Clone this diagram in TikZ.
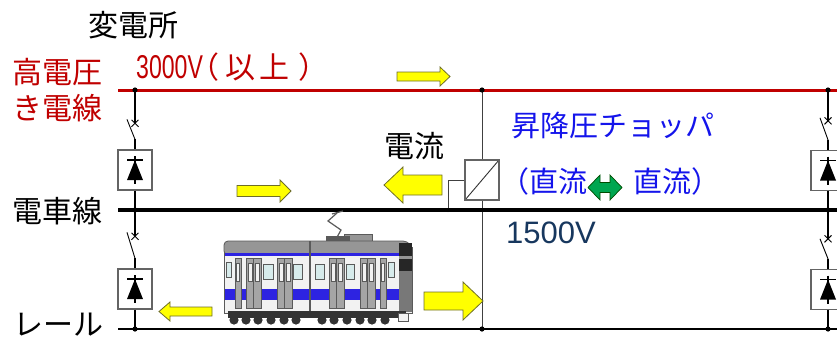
\documentclass[tikz,border=0pt]{standalone}
\usepackage{fontspec}
\usepackage{graphicx}
\setmainfont{Liberation Sans}
\newfontfamily\jp{Noto Sans CJK JP}
\usetikzlibrary{calc}

\definecolor{hvred}{RGB}{192,0,0}
\definecolor{chopblue}{RGB}{20,20,235}
\definecolor{dcnavy}{RGB}{23,55,94}
\definecolor{flowyellow}{RGB}{255,255,0}
\definecolor{flowedge}{RGB}{110,110,40}
\definecolor{convgreen}{RGB}{0,166,80}
\definecolor{boxgray}{RGB}{100,100,100}
\definecolor{trainwhite}{RGB}{242,242,242}
\definecolor{roofgray}{RGB}{150,150,150}
\definecolor{trainblue}{RGB}{45,35,225}
\definecolor{winblue}{RGB}{215,235,235}
\definecolor{doorgray}{RGB}{165,165,165}
\definecolor{trainedge}{RGB}{90,90,90}

% flow arrow: tail x, tip x, y, shaft half-height, head half-height, signed head length
\newcommand\flowarrow[6]{%
  \filldraw[flowarrowstyle]
    ({#1},{#3-#4}) -- ({#2-(#6)},{#3-#4}) -- ({#2-(#6)},{#3-#5}) -- ({#2},{#3})
    -- ({#2-(#6)},{#3+#5}) -- ({#2-(#6)},{#3+#4}) -- ({#1},{#3+#4}) -- cycle;}

\tikzset{
  flowarrowstyle/.style={fill=flowyellow, draw=flowedge, line width=0.8pt, line join=miter},
  wire/.style={line width=1.2pt, black},
  bladewire/.style={line width=0.9pt, black},
  stubwire/.style={line width=2.6pt, black},
  chopwire/.style={line width=0.9pt, black!75},
  hvline/.style={line width=3pt, hvred},
  trolley/.style={line width=4.8pt, black},
  railline/.style={line width=1.2pt, black},
  junction/.style={fill=black},
  diodebox/.style={draw=boxgray, fill=white, line width=1.3pt, minimum width=34pt,
    minimum height=40pt, inner sep=0pt,
    path picture={
      \fill[black] ([xshift=-8pt,yshift=-10pt]path picture bounding box.center)
        -- ([xshift=8pt,yshift=-10pt]path picture bounding box.center)
        -- ([yshift=10pt]path picture bounding box.center) -- cycle;
      \draw[black, line width=1.4pt] ([xshift=-8pt,yshift=10pt]path picture bounding box.center)
        -- ([xshift=8pt,yshift=10pt]path picture bounding box.center);
      \draw[black, line width=1.4pt] ([yshift=14pt]path picture bounding box.center)
        -- ([yshift=-14pt]path picture bounding box.center);
    }},
  chopbox/.style={draw=boxgray, fill=white, line width=1.3pt, minimum width=34pt,
    minimum height=40pt, inner sep=0pt,
    path picture={
      \draw[black!80, line width=0.9pt] (path picture bounding box.south west)
        -- (path picture bounding box.north east);
    }},
  lbl/.style={inner sep=0pt, anchor=west, font=\jp\fontsize{30}{36}\selectfont},
}

\begin{document}
\begin{tikzpicture}[x=1pt,y=-1pt]
\useasboundingbox (0,0) rectangle (837,338);
\clip (0,0) rectangle (837,338);

% bus lines
\coordinate (hvW) at (118,90);  \coordinate (hvE) at (837,90);
\coordinate (trW) at (118,210); \coordinate (trE) at (837,210);
\coordinate (rlW) at (118,329); \coordinate (rlE) at (837,329);
\draw[hvline] (hvW) -- (hvE);
\draw[railline] (rlW) -- (rlE);

% junctions
\coordinate (L1) at (135,90);  \coordinate (L2) at (135,210); \coordinate (L3) at (135,329);
\coordinate (R1) at (828,90);  \coordinate (R2) at (828,210); \coordinate (R3) at (828,329);
\coordinate (C1) at (482,90);  \coordinate (C2) at (448,210); \coordinate (C3) at (482,329);

% rectifier units of the substations
\node[diodebox] (dL1) at (135,170) {};
\node[diodebox] (dL2) at (135,289) {};
\node[diodebox] (dR1) at (828,170.5) {};
\node[diodebox] (dR2) at (828,289.5) {};

\foreach \dbox/\dfeed/\dlen/\dcross in {dL1/L1/30/26, dL2/L2/36/32, dR1/R1/32/29, dR2/R2/30/30} {
  \draw[wire] (\dfeed) -- ($(\dbox.north)+(0,-\dcross)$);
  \draw[bladewire] ($(\dbox.north)+(-3.5,-\dcross-3.5)$) -- ($(\dbox.north)+(3.5,-\dcross+3.5)$);
  \draw[bladewire] ($(\dbox.north)+(-3.5,-\dcross+3.5)$) -- ($(\dbox.north)+(3.5,-\dcross-3.5)$);
  \draw[bladewire] ($(\dbox.north)+(-8,-\dlen)$) -- ($(\dbox.north)+(0,-10)$);
  \draw[stubwire] ($(\dbox.north)+(0,-10)$) -- (\dbox.north);
}
\draw[wire] (dL1.south) -- (L2);
\draw[wire] (dL2.south) -- (L3);
\draw[wire] (dR1.south) -- (R2);
\draw[wire] (dR2.south) -- (R3);

% buck-boost chopper
\node[chopbox] (chop) at (482,180) {};
\draw[chopwire] (C1) -- (chop.north);
\draw[chopwire] (chop.south) -- (C3);
\draw[chopwire] (chop.west) -| (C2);

% trolley wire on top of the verticals
\draw[trolley] (trW) -- (trE);

\foreach \j in {L1,L2,L3,R1,R2,R3,C1,C3} \fill[junction] (\j) circle (2.6pt);
\fill[junction] (C2) circle (2pt);

% current flow arrows
\flowarrow{397}{450}{76.5}{4.5}{9.5}{10}
\flowarrow{237}{291}{191}{5.5}{11}{11}
\flowarrow{442}{384}{185}{10}{18}{-19}
\flowarrow{212}{159}{311.5}{4.5}{9.5}{-11}
\flowarrow{424}{483}{301}{9}{19}{20}

% DC-DC conversion arrow
\filldraw[fill=convgreen, draw=black!70!green, line width=0.7pt]
  (588,187.5) -- (600,175) -- (600,182.5) -- (610,182.5) -- (610,175) -- (622,187.5)
  -- (610,200) -- (610,192.5) -- (600,192.5) -- (600,200) -- cycle;

% ---- train ----
\draw[trainedge, line width=1.2pt] (336,239) -- (341,230) -- (328,221) -- (337,213);
\draw[trainedge, line width=1.2pt] (332,214) -- (343,211);
\filldraw[fill=roofgray, draw=trainedge, line width=0.6pt] (344,234) rectangle (372,241);
\fill[trainedge] (326,236) rectangle (350,241);
% body
\filldraw[fill=trainwhite, draw=trainedge, line width=0.8pt] (224,250) rectangle (412,313);
\filldraw[fill=roofgray, draw=trainedge, line width=0.8pt, rounded corners=4pt]
  (224,255) -- (224,241) -- (407,241) -- (412,247) -- (412,255) -- cycle;
\fill[trainblue] (225,252.5) rectangle (400,255.5);
\fill[trainblue] (225,289) rectangle (400,300);
% windows
\foreach \xa/\xb/\ya/\yb in {226/231/262/277, 263/273/264/279, 293/302/264/279,
                             315/324/264/279, 346/354/264/279, 388/394/262/277}
  \filldraw[fill=winblue, draw=trainedge, line width=0.8pt] (\xa,\ya) rectangle (\xb,\yb);
% double doors
\foreach \xa/\xb in {246/261, 277/292, 329/344, 360/375} {
  \filldraw[fill=doorgray, draw=trainedge, line width=0.8pt] (\xa,258) rectangle (\xb,308);
  \draw[trainedge, line width=0.6pt] ({(\xa+\xb)/2},258) -- ({(\xa+\xb)/2},308);
  \filldraw[fill=trainwhite, draw=trainedge, line width=0.5pt] (\xa+2,263) rectangle ({(\xa+\xb)/2-1.5},281);
  \filldraw[fill=trainwhite, draw=trainedge, line width=0.5pt] ({(\xa+\xb)/2+1.5},263) rectangle (\xb-2,281);
}
% single doors
\foreach \xa/\xb in {235/241, 380/386} {
  \filldraw[fill=doorgray, draw=trainedge, line width=0.8pt] (\xa,258) rectangle (\xb,308);
  \filldraw[fill=trainwhite, draw=trainedge, line width=0.5pt] (\xa+1.5,263) rectangle (\xb-1.5,281);
}
% car joint and cab end
\draw[trainedge, line width=1.6pt] (310,241) -- (310,313);
\fill[black!85] (399,243) rectangle (412,271);
\fill[roofgray] (399,256) rectangle (412,259);
\fill[roofgray!80!black] (399,271) rectangle (412,312);
\draw[trainedge, line width=0.8pt] (412,247) -- (412,313);
% underframe and wheels
\fill[black!80] (228,311) rectangle (406,318);
\foreach \wx in {234,246,258,271,284,296,322,334,347,360,372,385}
  \fill[black!80] (\wx,320) circle (4.6pt);
\filldraw[fill=trainwhite, draw=trainedge, line width=0.6pt] (398,313) rectangle (408,321);

% ---- labels ----
\node[lbl] (subst) at (88,25) {変電所};
\node[lbl, text=hvred] (hvA) at (12,72) {高電圧};
\node[lbl, text=hvred] (hvB) at (12,108) {き電線};
\node[lbl, text=hvred] (hvV) at (136,67)
  {{\rmfamily\fontsize{33}{36}\selectfont\scalebox{0.7}[1]{3000V}}\hspace{-13pt}（\hspace{6pt}以\hspace{4pt}上\hspace{9pt}）};
\node[lbl] (cur) at (384,146) {電流};
\node[lbl, text=chopblue, font=\jp\fontsize{29}{34}\selectfont] (chopA) at (511,125) {昇降圧チョッパ};
\node[lbl, text=chopblue, anchor=east, font=\jp\fontsize{29}{34}\selectfont] (dcA) at (588,181) {（直流};
\node[lbl, text=chopblue, font=\jp\fontsize{29}{34}\selectfont] (dcB) at (633,181) {直流）};
\node[lbl, text=dcnavy, font=\rmfamily\fontsize{31}{36}\selectfont] (v1500) at (506,232.5) {1500V};
\node[lbl] (trol) at (12,211) {電車線};
\node[lbl] (rail) at (13,325) {レール};
\end{tikzpicture}
\end{document}
